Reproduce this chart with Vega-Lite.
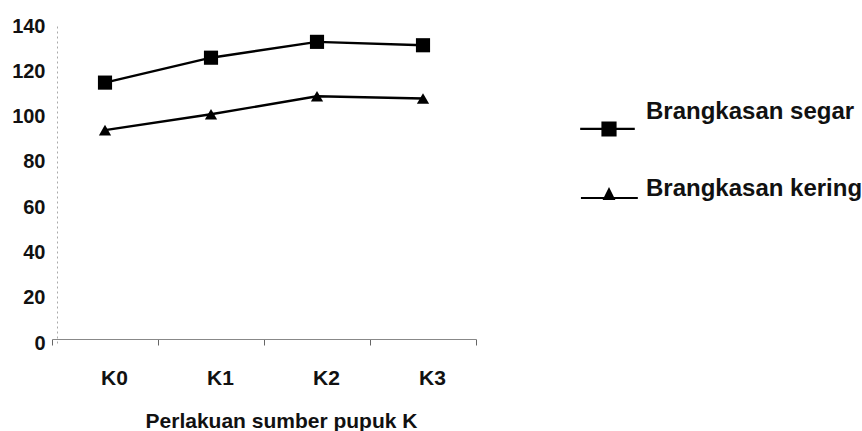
{
  "$schema": "https://vega.github.io/schema/vega-lite/v6.json",
  "autosize": {"type": "none"},
  "width": 424,
  "height": 317,
  "padding": {"left": 52, "top": 26, "right": 386, "bottom": 88},
  "background": "white",
  "config": {
    "view": {"stroke": null},
    "font": "Liberation Sans"
  },
  "data": {
    "values": [
      {"perlakuan": "K0", "series": "Brangkasan segar", "value": 115},
      {"perlakuan": "K1", "series": "Brangkasan segar", "value": 126},
      {"perlakuan": "K2", "series": "Brangkasan segar", "value": 133},
      {"perlakuan": "K3", "series": "Brangkasan segar", "value": 131.5},
      {"perlakuan": "K0", "series": "Brangkasan kering", "value": 94},
      {"perlakuan": "K1", "series": "Brangkasan kering", "value": 101},
      {"perlakuan": "K2", "series": "Brangkasan kering", "value": 109},
      {"perlakuan": "K3", "series": "Brangkasan kering", "value": 108}
    ]
  },
  "encoding": {
    "x": {
      "field": "perlakuan",
      "type": "nominal",
      "sort": ["K0", "K1", "K2", "K3"],
      "scale": {"type": "band", "paddingInner": 0, "paddingOuter": 0},
      "axis": {
        "title": "Perlakuan sumber pupuk K",
        "titleFontSize": 21,
        "titleFontWeight": "bold",
        "titleColor": "#111",
        "titlePadding": 22,
        "titleX": 229,
        "titleAlign": "center",
        "labelAngle": 0,
        "labelFontSize": 21,
        "labelFontWeight": "bold",
        "labelColor": "#111",
        "labelPadding": 22,
        "labelOffset": 9,
        "domainColor": "#888",
        "domainWidth": 1,
        "tickBand": "extent",
        "tickColor": "#666",
        "tickSize": 6,
        "offset": -4
      }
    },
    "y": {
      "field": "value",
      "type": "quantitative",
      "scale": {"domain": [0, 140]},
      "axis": {
        "title": null,
        "values": [0, 20, 40, 60, 80, 100, 120, 140],
        "labelFontSize": 20,
        "labelFontWeight": "bold",
        "labelColor": "#111",
        "labelPadding": 12,
        "ticks": false,
        "grid": false,
        "offset": -5,
        "domainColor": "#aaa",
        "domainDash": [2, 3],
        "domainWidth": 1
      }
    }
  },
  "layer": [
    {
      "mark": {"type": "line", "color": "black", "strokeWidth": 2.4},
      "encoding": {"detail": {"field": "series", "type": "nominal"}}
    },
    {
      "mark": {"type": "point", "filled": true, "color": "black", "opacity": 1},
      "encoding": {
        "shape": {
          "field": "series",
          "type": "nominal",
          "scale": {"domain": ["Brangkasan segar", "Brangkasan kering"], "range": ["square", "triangle-up"]},
          "legend": null
        },
        "size": {
          "field": "series",
          "type": "nominal",
          "scale": {"domain": ["Brangkasan segar", "Brangkasan kering"], "range": [200, 150]},
          "legend": null
        }
      }
    },
    {
      "transform": [{"filter": "false"}],
      "mark": {"type": "point", "filled": true, "color": "black", "opacity": 1},
      "encoding": {
        "shape": {
          "field": "series",
          "type": "nominal",
          "scale": {
            "domain": ["Brangkasan segar", "Brangkasan kering"],
            "range": [
              "M-3.8,2.09H3.4V2.39H-3.8Z M-1,1.24H1V3.24H-1Z",
              "M-3.7,1.05H3.8V1.33H-3.7Z M0,-0.26L0.85,1.44H-0.85Z"
            ]
          },
          "legend": {
            "title": null,
            "orient": "none",
            "legendX": 545,
            "legendY": 74,
            "labelFontSize": 24,
            "labelFontWeight": "bold",
            "labelColor": "#111",
            "symbolFillColor": "black",
            "symbolStrokeColor": "black",
            "symbolStrokeWidth": 0,
            "symbolOpacity": 1,
            "symbolSize": 230,
            "rowPadding": 40,
            "labelOffset": 25,
            "labelLimit": 300
          }
        }
      }
    }
  ],
  "resolve": {"scale": {"shape": "independent"}}
}
